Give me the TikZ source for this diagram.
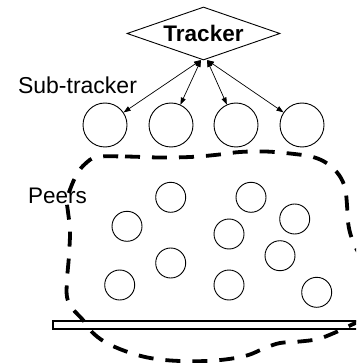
\documentclass[tikz,border=0pt]{standalone}
\usepackage{fontspec}
\setmainfont{Liberation Sans}
\usetikzlibrary{shapes.geometric,arrows.meta}
\begin{document}
\begin{tikzpicture}[x=1pt,y=-1pt,
  subtr/.style={circle,draw,line width=0.9pt,minimum size=44pt,inner sep=0pt},
  peer/.style={circle,draw,line width=0.9pt,minimum size=30pt,inner sep=0pt},
  link/.style={line width=0.7pt,{Triangle[length=7pt,width=5pt]}-{Triangle[length=7pt,width=5pt]}},
  blob/.style={line width=3.8pt,dash pattern=on 15pt off 12pt},
  lbl/.style={inner sep=0pt,anchor=base}]
\useasboundingbox (0,0) rectangle (356,363);
\clip (0,0) rectangle (356,363);
% tracker
\node[diamond,draw,line width=0.9pt,inner sep=0pt,shape aspect=2.9,minimum width=153pt,minimum height=53pt,
  font=\fontsize{22.5}{26}\selectfont\bfseries] (tracker) at (203.5,33.5) {Tracker};
\coordinate (tL) at (201,60);
\coordinate (tR) at (207,60);
% sub-trackers
\node[subtr] (s1) at (105,125) {};
\node[subtr] (s2) at (171,125) {};
\node[subtr] (s3) at (236,125) {};
\node[subtr] (s4) at (302,125) {};
\draw[link] (tL) -- (s1);
\draw[link] (tL) -- (s2);
\draw[link] (tR) -- (s3);
\draw[link] (tR) -- (s4);
\node[lbl,font=\fontsize{23}{27}\selectfont] (sublbl) at (77.5,94) {Sub-tracker};
\node[lbl,font=\fontsize{22.5}{27}\selectfont] (peerlbl) at (57.5,203) {Peers};
% peers
\node[peer] (p1) at (170.7,197.3) {};
\node[peer] (p2) at (251,197.3) {};
\node[peer] (p3) at (127,226.3) {};
\node[peer] (p4) at (294.7,219) {};
\node[peer] (p5) at (229,234) {};
\node[peer] (p6) at (170.7,263) {};
\node[peer] (p7) at (280,255.7) {};
\node[peer] (p8) at (119.7,285) {};
\node[peer] (p9) at (229,285) {};
\node[peer] (p10) at (316.7,292.3) {};
% bar
\draw[line width=1.3pt,fill=white] (53,321) rectangle (362,329);
% peer region
\draw[blob] plot[smooth cycle,tension=0.6] coordinates {
 (97,157) (125,156.5) (160,157.5) (190,157) (215,155) (240,152) (265,151.5)
 (290,153.5) (313,157) (328,164) (339,175) (345,188) (347,205) (348,222)
 (351,236) (357,250) (372,275) (376,300) (363,318) (349,326) (334,333)
 (318,339) (300,341.5) (280,343) (265,348) (245,356) (215,360.5) (180,361) (150,358)
 (125,351) (105,342) (92,332) (83,320) (72,308) (67,297) (67,280) (69,255)
 (70,230) (68,212) (67,200) (71,187) (77,174) (85,164)};
\end{tikzpicture}
\end{document}
